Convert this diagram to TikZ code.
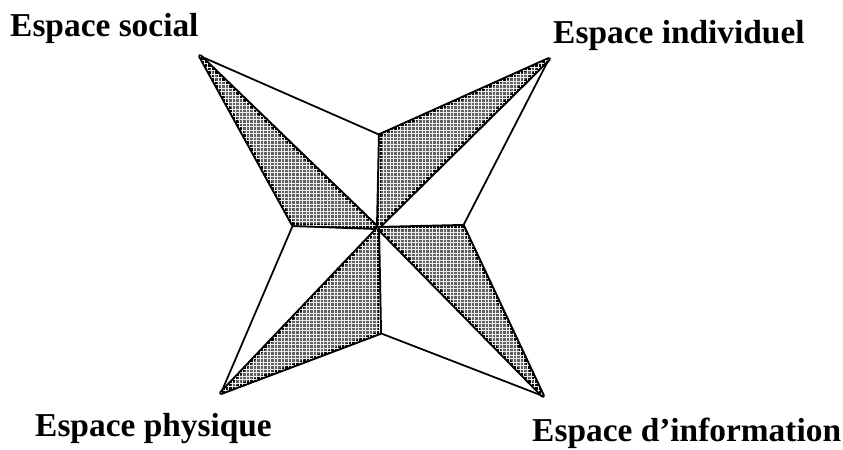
\documentclass[tikz,border=0pt]{standalone}
\usepackage{fontspec}
\setmainfont{Liberation Serif}
\usetikzlibrary{patterns}

\begin{document}
\begin{tikzpicture}[x=0.03cm,y=-0.03cm,line join=round,
  lbl/.style={font=\bfseries\fontsize{28.5}{32}\selectfont,inner sep=0pt,anchor=base west},
  hatched/.style={draw=black,line width=3.4pt,fill=black!62,postaction={pattern=grid,pattern color=white!85!gray}},
  thin edge/.style={draw=black,line width=1.5pt}]
  \useasboundingbox (0,0) rectangle (843,450);
  \coordinate (c) at (378,228);
  \coordinate (n) at (380,135);
  \coordinate (e) at (463,226);
  \coordinate (s) at (380,333);
  \coordinate (w) at (293,225);
  \coordinate (tl) at (200,56);
  \coordinate (tr) at (549,59);
  \coordinate (bl) at (221,393);
  \coordinate (br) at (543,396);
  \draw[thin edge] (tl) -- (n);
  \draw[thin edge] (tr) -- (e);
  \draw[thin edge] (br) -- (s);
  \draw[thin edge] (bl) -- (w);
  \path[hatched] (tl) -- (c) -- (w) -- cycle;
  \path[hatched] (tr) -- (n) -- (c) -- cycle;
  \path[hatched] (br) -- (e) -- (c) -- cycle;
  \path[hatched] (bl) -- (c) -- (s) -- cycle;
  \node[lbl] (social) at (10,37) {Espace social};
  \node[lbl] (individuel) at (553,44) {Espace individuel};
  \node[lbl] (physique) at (35,436) {Espace physique};
  \node[lbl] (information) at (532,441) {Espace d’information};
\end{tikzpicture}
\end{document}
